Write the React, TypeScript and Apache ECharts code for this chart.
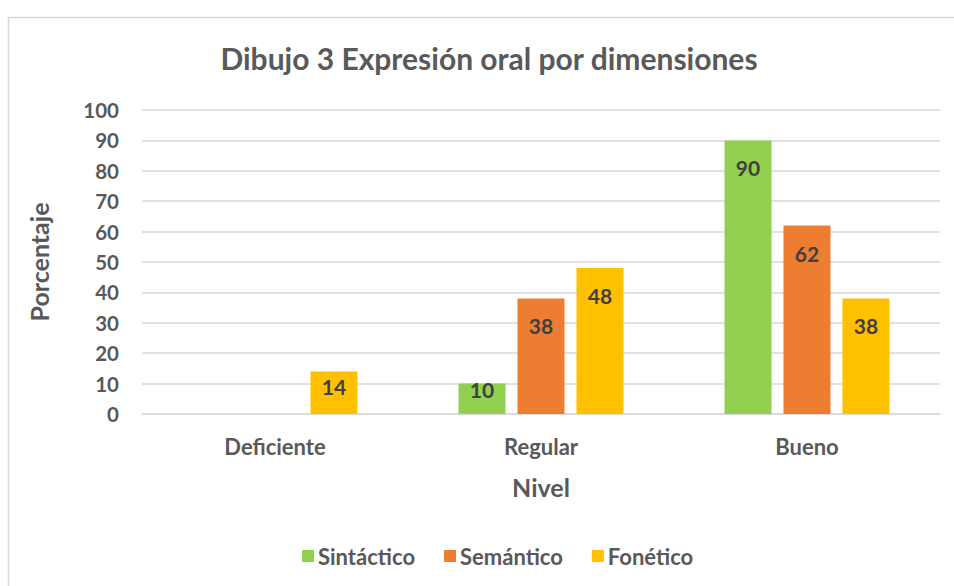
import React, { useEffect, useRef } from "react";
import * as echarts from "echarts";

const categories = ["Deficiente", "Regular", "Bueno"];
const sintactico = [0, 10, 90];
const semantico = [0, 38, 62];
const fonetico = [14, 48, 38];
const seriesNames = ["Sintáctico", "Semántico", "Fonético"];
const colors = ["#92D050", "#ED7D31", "#FFC000"];

const FONT = "Lato";

function labelDist(v: number) {
  if (v >= 30) return 17;
  if (v >= 12) return 5;
  return -5;
}

function makeSeries(name: string, values: number[], color: string) {
  return {
    name,
    type: "bar",
    barWidth: 47,
    barGap: "25.5%",
    itemStyle: { color },
    data: values.map((v) => ({
      value: v,
      label: {
        show: v > 0,
        position: "insideTop",
        distance: labelDist(v),
      },
    })),
    label: {
      show: true,
      color: "#404040",
      fontFamily: FONT,
      fontWeight: "bold",
      fontSize: 21,
    },
  };
}

export default function App() {
  const ref = useRef<HTMLDivElement>(null);
  useEffect(() => {
    if (!ref.current) return;
    const chart = echarts.init(ref.current, null, { renderer: "svg" });
    chart.setOption({
      animation: false,
      backgroundColor: "#ffffff",
      textStyle: { fontFamily: FONT },
      graphic: [
        {
          type: "rect",
          shape: { x: 8.5, y: 17.5, width: 960, height: 620 },
          style: { fill: "none", stroke: "#D9D9D9", lineWidth: 1.5 },
          silent: true,
          z: -1,
        },
      ],
      title: {
        text: "Dibujo 3 Expresión oral por dimensiones",
        left: 484,
        top: 38,
        textAlign: "center",
        textStyle: {
          fontFamily: FONT,
          fontSize: 30,
          fontWeight: "bold",
          color: "#595959",
        },
      },
      legend: {
        left: 297,
        top: 540,
        itemWidth: 12,
        itemHeight: 12,
        itemGap: 29,
        icon: "rect",
        textStyle: {
          fontFamily: FONT,
          fontSize: 22,
          fontWeight: "bold",
          color: "#595959",
          padding: [0, 0, 0, -1],
        },
        data: seriesNames,
      },
      grid: { left: 142, right: 14, top: 110, bottom: 172, containLabel: false },
      xAxis: {
        type: "category",
        data: categories,
        name: "Nivel",
        nameLocation: "middle",
        nameGap: 60,
        nameTextStyle: {
          fontFamily: FONT,
          fontSize: 25,
          fontWeight: "bold",
          color: "#595959",
        },
        axisLine: { lineStyle: { color: "#D9D9D9", width: 1.5 } },
        axisTick: { show: false },
        axisLabel: {
          margin: 21,
          fontFamily: FONT,
          fontSize: 22,
          fontWeight: "bold",
          color: "#595959",
        },
      },
      yAxis: {
        type: "value",
        min: 0,
        max: 100,
        interval: 10,
        name: "Porcentaje",
        nameLocation: "middle",
        nameGap: 91,
        nameTextStyle: {
          fontFamily: FONT,
          fontSize: 25,
          fontWeight: "bold",
          color: "#595959",
        },
        axisLine: { show: false },
        axisTick: { show: false },
        splitLine: { lineStyle: { color: "#D9D9D9", width: 1.5 } },
        axisLabel: {
          margin: 23,
          fontFamily: FONT,
          fontSize: 20.5,
          fontWeight: "bold",
          color: "#595959",
        },
      },
      series: [
        makeSeries(seriesNames[0], sintactico, colors[0]),
        makeSeries(seriesNames[1], semantico, colors[1]),
        makeSeries(seriesNames[2], fonetico, colors[2]),
      ],
    });
    return () => chart.dispose();
  }, []);
  return (
    <div
      ref={ref}
      style={{ position: "fixed", left: 0, top: 0, width: 954, height: 586 }}
    />
  );
}
